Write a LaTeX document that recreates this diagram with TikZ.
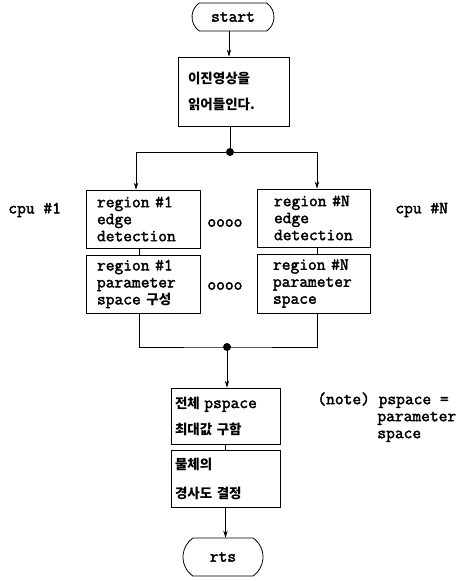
\documentclass[tikz,border=0pt]{standalone}
\usepackage{fontspec}
\newfontfamily\mono{Latin Modern Mono}[FakeBold=2.2]
\newfontfamily\kr{Noto Sans CJK KR}
\usetikzlibrary{shapes.misc,arrows.meta}
\begin{document}
\begin{tikzpicture}[x=1pt,y=-1pt,
  line width=0.8pt,
  mtext/.style={font=\mono\fontsize{17}{17}\selectfont},
  ktext/.style={font=\kr\bfseries\fontsize{13.5}{26}\selectfont},
  box/.style={draw,rectangle,align=left,anchor=center,inner ysep=0pt},
  term/.style={draw,rounded rectangle,rounded rectangle arc length=110,inner sep=0pt,mtext},
  dot/.style={circle,fill,inner sep=0pt,minimum size=8pt},
  arr/.style={-{Stealth[length=7pt,width=4.5pt]}},
  plain/.style={mtext,inner sep=0pt,anchor=west}]
\useasboundingbox (0,0) rectangle (464,581);
% terminals
\node[term,minimum width=82pt,minimum height=28pt] (start) at (233,17) {start};
\node[term,minimum width=80pt,minimum height=38pt] (rts) at (223,557) {rts};
% box 1
\node[box,ktext,minimum width=111pt,minimum height=69pt,text width=91pt,inner xsep=10pt] (b1) at (233.5,91.5) {이진영상을\\읽어들인다.};
% region boxes
\node[box,mtext,minimum width=114pt,minimum height=58pt,text width=92pt,inner xsep=11pt] (A) at (143,219) {region \#1\\edge\\detection};
\node[box,mtext,minimum width=114pt,minimum height=58pt,text width=92pt,inner xsep=11pt] (A2) at (143,284) {region \#1\\parameter\\space {\kr\bfseries\fontsize{13.5}{17}\selectfont 구성}};
\node[box,mtext,minimum width=113pt,minimum height=58pt,text width=91pt,inner xsep=11pt] (B) at (313.5,218) {\hspace*{6pt}region \#N\\\hspace*{6pt}edge\\\hspace*{6pt}detection};
\node[box,mtext,minimum width=113pt,minimum height=59pt,text width=91pt,inner xsep=11pt] (B2) at (313.5,283.5) {\hspace*{5pt}region \#N\\\hspace*{5pt}parameter\\\hspace*{5pt}space};
% lower boxes
\node[box,ktext,minimum width=109pt,minimum height=56pt,text width=101pt,inner xsep=4pt] (C) at (225.5,416) {전체 {\mono\fontsize{17}{17}\selectfont pspace}\\최대값 구함};
\node[box,ktext,minimum width=109pt,minimum height=57pt,text width=101pt,inner xsep=4pt,font=\kr\bfseries\fontsize{13.5}{29}\selectfont] (D) at (225.5,478.5) {물체의\\경사도 결정};
% side labels
\node[plain] (cpu1) at (8,210) {cpu \#1};
\node[plain] (cpuN) at (395,210) {cpu \#N};
\node[plain] (o1) at (207,223) {oooo};
\node[plain] (o2) at (207,286) {oooo};
\node[plain,align=left,anchor=north west] (note) at (317,392) {(note) pspace =\\\hspace*{60pt}parameter\\\hspace*{60pt}space};
% junctions
\node[dot] (d1) at (230,152) {};
\node[dot] (d2) at (227,347) {};
% connectors
\draw[arr] ([xshift=-4pt]start.south) -- ([xshift=-4pt]start.south |- b1.north);
\draw (d1 |- b1.south) -- (d1);
\draw[arr] (d1) -| ([xshift=-7pt]A.north);
\draw[arr] (d1) -| ([xshift=3.5pt]B.north);
\draw ([xshift=-4pt]A.south) -- ([xshift=-4pt]A2.north);
\draw ([xshift=3.5pt]B.south) -- ([xshift=3.5pt]B2.north);
\draw ([xshift=-4pt]A2.south) |- (d2.center) -| ([xshift=3.5pt]B2.south);
\draw[arr] (d2) -- (d2 |- C.north);
\draw (C.south) -- (D.north);
\draw[arr] (D.south) -- (D.south |- rts.north);
\end{tikzpicture}
\end{document}
